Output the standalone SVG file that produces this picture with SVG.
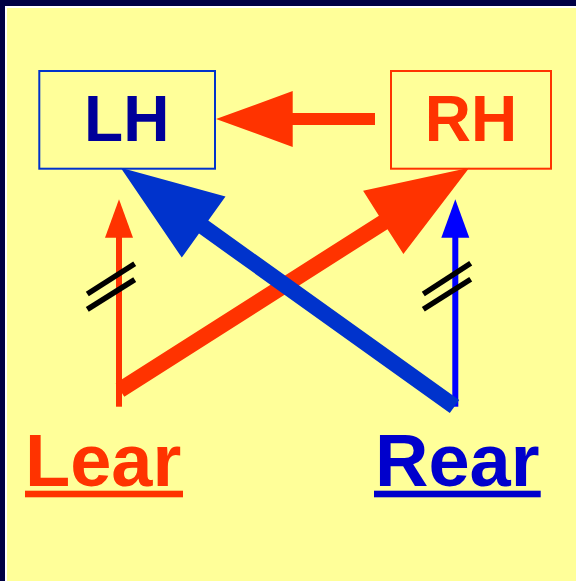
<svg xmlns="http://www.w3.org/2000/svg" width="576" height="581" viewBox="0 0 576 581">
<style>
.lbl{font-family:"Liberation Sans",Arial,sans-serif;font-weight:bold}
.hash{stroke:#000;stroke-width:5.5;stroke-linecap:butt}
</style>
<rect x="0" y="0" width="576" height="581" fill="#000044"/>
<rect x="5" y="6" width="571" height="575" fill="#FFFFFF"/>
<rect x="7" y="8" width="569" height="573" fill="#FFFF99"/>
<g id="LH">
<rect x="39.3" y="71" width="175.7" height="97.7" fill="none" stroke="#0033CC" stroke-width="2"/>
<text class="lbl" x="126.7" y="140.7" font-size="64" text-anchor="middle" fill="#000099">LH</text>
</g>
<g id="RH">
<rect x="391" y="71" width="160" height="97.7" fill="none" stroke="#FF3300" stroke-width="2"/>
<text class="lbl" x="471" y="140.7" font-size="64" text-anchor="middle" fill="#FF3300">RH</text>
</g>
<g id="Lear">
<text class="lbl" x="25" y="486" font-size="74" fill="#FF3300">Lear</text>
<rect x="25" y="490.7" width="158" height="6.6" fill="#FF3300"/>
</g>
<g id="Rear">
<text class="lbl" x="375" y="486" font-size="74" fill="#0000CC">Rear</text>
<rect x="374" y="490.7" width="166.7" height="6.6" fill="#0000CC"/>
</g>
<g id="connectors">
<polygon fill="#FF3300" points="375,113 292.7,113 292.7,91 216,119 292.7,147 292.7,125 375,125"/>
<rect x="116" y="236" width="6" height="170.7" fill="#FF3300"/>
<polygon fill="#FF3300" points="119,199.3 133,237.7 105,237.7"/>
<line class="hash" x1="87.3" y1="294" x2="134.7" y2="263.7"/>
<line class="hash" x1="87.3" y1="309.3" x2="134.7" y2="279.7"/>
<rect x="452.3" y="236" width="6" height="170.7" fill="#0000FF"/>
<polygon fill="#0000FF" points="455.3,199.3 469.3,237.7 441.3,237.7"/>
<line class="hash" x1="423.3" y1="294" x2="470.7" y2="263.3"/>
<line class="hash" x1="423.3" y1="309.3" x2="470.7" y2="279.3"/>
<polygon fill="#FF3300" points="115.7,383.3 378.9,215.7 363.1,190.8 469.3,167.7 403.4,254.1 387.5,229.2 124.3,396.7"/>
<polygon fill="#0033CC" points="459.2,400 208.3,220.5 225.5,196.6 120.7,167.7 181.8,257.6 199,233.6 449.8,413"/>
</g>
</svg>
